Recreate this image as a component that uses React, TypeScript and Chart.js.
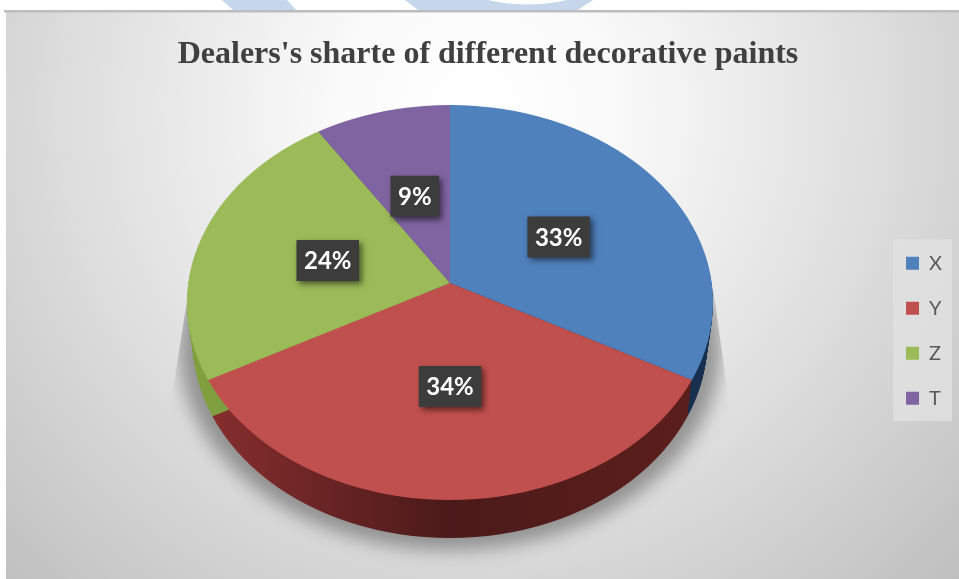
import { useEffect, useRef } from "react";
import { ArcElement, Chart, registerables } from "chart.js";

Chart.register(...registerables);

const categories = ["X", "Y", "Z", "T"];
const shares = [33, 34, 24, 9];
const faceColors = ["#4f81bd", "#c0504d", "#9bbb59", "#8064a2"];
const wallColors = [
  ["#1d3d68", "#17304f"],
  ["#8c3030", "#4c1a1a", "#5c1f1c"],
  ["#80a03f", "#7a9a3a"],
  ["#5a4475", "#5a4475"],
];
const chartTitle = "Dealers's sharte of different decorative paints";

const WIDTH = 959;
const HEIGHT = 579;
const PIE_RADIUS = 263;
// Apex of the slices; the perspective rim is centred lower than this.
const PIE_APEX = { x: 450, y: 283 };
const RIM = { x: 450, y: 302.5, rx: 263, ry: 197.5 };
const RAY_TILT = 0.73;
const OVERSIZE = 1.35;
const PIE_DEPTH = 38;
// The lower rim recedes a little, so the wall tapers towards the sides.
const WALL_TAPER = 0.15;
const LABEL_RADIUS = 0.48;
const LABEL_BACK_TILT = 0.716;
const LABEL_FRONT_TILT = 0.82;

function copyArc(arc: any, color: any, radius: number) {
  return new ArcElement({
    x: arc.x,
    y: arc.y,
    startAngle: arc.startAngle,
    endAngle: arc.endAngle,
    circumference: arc.circumference,
    innerRadius: 0,
    outerRadius: radius,
    options: {
      backgroundColor: color,
      borderColor: "transparent",
      borderWidth: 0,
      borderAlign: "center",
      borderJoinStyle: "round",
      borderRadius: 0,
      circular: true,
      offset: 0,
      spacing: 0,
    },
  } as any);
}

// Fills one slice squashed onto the disc, trimmed to the elliptical rim and lowered by `drop`.
function paintSlice(ctx: CanvasRenderingContext2D, arc: any, color: any, drop: number) {
  ctx.save();
  ctx.beginPath();
  ctx.ellipse(RIM.x, RIM.y + drop, RIM.rx - drop * WALL_TAPER, RIM.ry, 0, 0, Math.PI * 2);
  ctx.clip();
  ctx.translate(PIE_APEX.x, PIE_APEX.y + drop);
  ctx.scale(1, RAY_TILT);
  ctx.translate(-arc.x, -arc.y);
  copyArc(arc, color, arc.outerRadius * OVERSIZE).draw(ctx);
  ctx.restore();
}

function drawPageBackdrop(ctx: CanvasRenderingContext2D) {
  ctx.fillStyle = "#ffffff";
  ctx.fillRect(0, 0, WIDTH, HEIGHT);

  ctx.fillStyle = "#c6d7ec";
  ctx.beginPath();
  ctx.moveTo(222, 0);
  ctx.lineTo(287, 0);
  ctx.lineTo(296, 10);
  ctx.lineTo(233, 10);
  ctx.closePath();
  ctx.fill();
  ctx.beginPath();
  ctx.moveTo(405, 0);
  ctx.lineTo(488, 0);
  ctx.quadraticCurveTo(527, 9, 567, 0);
  ctx.lineTo(593, 0);
  ctx.lineTo(578, 10);
  ctx.lineTo(418, 10);
  ctx.closePath();
  ctx.fill();

  const glow = ctx.createRadialGradient(475, 110, 0, 475, 110, 700);
  glow.addColorStop(0, "#ffffff");
  glow.addColorStop(0.18, "#fbfbfb");
  glow.addColorStop(0.55, "#e0e0e0");
  glow.addColorStop(1, "#bcbcbc");
  ctx.fillStyle = glow;
  ctx.fillRect(6, 10, WIDTH - 6, HEIGHT - 10);
  ctx.fillStyle = "#bdbdbd";
  ctx.fillRect(4, 10, WIDTH - 4, 2.5);
}

const paintPlugin = {
  id: "tiltedPie",
  beforeDraw(chart: any) {
    const { ctx, legend } = chart;
    ctx.save();
    drawPageBackdrop(ctx);
    const boxes = legend.legendHitBoxes;
    const first = boxes[0];
    const last = boxes[boxes.length - 1];
    const top = first.top + first.height / 2 - 24;
    const bottom = last.top + last.height / 2 + 23;
    ctx.fillStyle = "rgba(225,225,225,0.8)";
    ctx.fillRect(first.left - 13, top, 59, bottom - top);
    ctx.restore();
  },
  beforeDatasetDraw(chart: any) {
    const { ctx } = chart;
    const arcs = chart.getDatasetMeta(0).data;

    // Soft cast shadow beneath the disc, cut off along slanted sides.
    ctx.save();
    ctx.beginPath();
    ctx.moveTo(RIM.x - RIM.rx + 2, RIM.y - 15);
    ctx.lineTo(RIM.x + RIM.rx, RIM.y - 15);
    ctx.lineTo(RIM.x + RIM.rx + 18, RIM.y + 115);
    ctx.lineTo(RIM.x + RIM.rx + 18, HEIGHT);
    ctx.lineTo(RIM.x - RIM.rx - 16, HEIGHT);
    ctx.lineTo(RIM.x - RIM.rx - 16, RIM.y + 100);
    ctx.closePath();
    ctx.clip();
    ctx.filter = "blur(9px)";
    ctx.fillStyle = "rgba(70,70,70,0.5)";
    ctx.beginPath();
    ctx.ellipse(RIM.x, RIM.y + PIE_DEPTH + 6, RIM.rx + 8, RIM.ry + 6, 0, 0, Math.PI * 2);
    ctx.fill();
    ctx.restore();

    // Side wall: the disc stacked downwards in darker tones.
    arcs.forEach((arc: any, i: number) => {
      const shade = ctx.createLinearGradient(RIM.x - RIM.rx, 0, RIM.x + RIM.rx, 0);
      const stops = wallColors[i];
      stops.forEach((c, k) => shade.addColorStop(k / (stops.length - 1), c));
      for (let d = PIE_DEPTH; d >= 1; d--) paintSlice(ctx, arc, shade, d);
    });

    // Top face.
    arcs.forEach((arc: any) => paintSlice(ctx, arc, arc.options.backgroundColor, 0));
    return false;
  },
  afterDatasetsDraw(chart: any) {
    const { ctx } = chart;
    const arcs = chart.getDatasetMeta(0).data;
    arcs.forEach((arc: any, i: number) => {
      const mid = (arc.startAngle + arc.endAngle) / 2;
      const dx = Math.cos(mid) * arc.outerRadius * LABEL_RADIUS;
      const dy = Math.sin(mid) * arc.outerRadius * LABEL_RADIUS;
      const x = PIE_APEX.x + dx;
      const y = PIE_APEX.y + dy * (dy < 0 ? LABEL_BACK_TILT : LABEL_FRONT_TILT);
      const text = `${shares[i]}%`;
      ctx.save();
      ctx.font = "bold 24px Lato";
      const w = ctx.measureText(text).width + 15;
      const h = 41;
      ctx.shadowColor = "rgba(0,0,0,0.55)";
      ctx.shadowBlur = 6;
      ctx.shadowOffsetX = 3;
      ctx.shadowOffsetY = 3;
      ctx.fillStyle = "#3c3c3c";
      ctx.fillRect(x - w / 2, y - h / 2, w, h);
      ctx.shadowColor = "transparent";
      ctx.fillStyle = "#ffffff";
      ctx.textAlign = "center";
      ctx.textBaseline = "middle";
      ctx.fillText(text, x, y + 1);
      ctx.restore();
    });
  },
};

export default function App() {
  const canvasRef = useRef<HTMLCanvasElement>(null);

  useEffect(() => {
    const chart = new Chart(canvasRef.current!, {
      type: "pie",
      data: {
        labels: categories,
        datasets: [{ data: shares, backgroundColor: faceColors, borderWidth: 0, radius: PIE_RADIUS }],
      },
      options: {
        responsive: false,
        animation: false,
        devicePixelRatio: 1,
        layout: { padding: { left: 24, right: 7 } },
        plugins: {
          title: {
            display: true,
            text: chartTitle,
            color: "#404040",
            font: { family: "'Liberation Serif'", weight: "bold", size: 32 },
            padding: { top: 36, bottom: 8 },
          },
          legend: {
            position: "right",
            fullSize: false,
            labels: {
              boxWidth: 13,
              boxHeight: 13,
              padding: 25,
              color: "#595959",
              font: { family: "Lato", size: 20 },
            },
          },
          tooltip: { enabled: false },
        },
      } as any,
      plugins: [paintPlugin],
    });
    return () => chart.destroy();
  }, []);

  return (
    <div style={{ position: "absolute", left: 0, top: 0, width: WIDTH, height: HEIGHT }}>
      <canvas ref={canvasRef} width={WIDTH} height={HEIGHT} style={{ display: "block" }} />
    </div>
  );
}
